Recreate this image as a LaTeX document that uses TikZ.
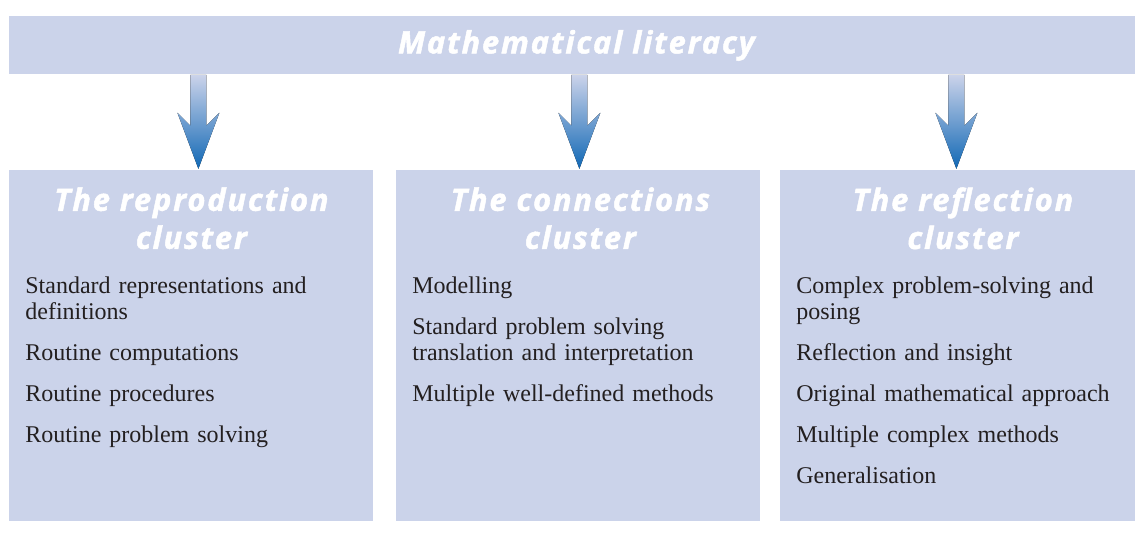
\documentclass[tikz,border=0pt]{standalone}
\usepackage{fontspec}
\setmainfont{Liberation Serif}
\newfontfamily\headfont[BoldItalicFeatures={FakeBold=1.6},LetterSpace=6]{Open Sans}
\usetikzlibrary{positioning,calc}
\definecolor{boxblue}{RGB}{203,211,234}
\definecolor{arrowtop}{RGB}{203,211,234}
\definecolor{arrowtip}{RGB}{17,104,181}
\definecolor{bodytext}{RGB}{35,31,32}

\tikzset{
 panel/.style={fill=boxblue,inner sep=0,anchor=north west},
 headtext/.style={text=white,align=center,inner sep=0,anchor=north,
  font=\headfont\bfseries\itshape\fontsize{15.4}{19}\selectfont},
 listtext/.style={text=bodytext,text width=172pt,align=left,inner sep=0,anchor=north west,
  font=\fontsize{12}{13}\selectfont\setlength{\parskip}{7.6pt}}
}
% arrow from the title bar down to a cluster, #2 = sideways shift
\newcommand{\clusterarrow}[2]{%
 \fill[top color=arrowtop,bottom color=arrowtip]
  ($(lit.south -| #1.north)+(#2,0)$) ++(-8,0) -- ++(0,51) -- ++(-13,-13)
  -- ++(21,56) -- ++(21,-56) -- ++(-13,13) -- ++(0,-51) -- cycle;}

\begin{document}
\begin{tikzpicture}[x=0.5pt,y=-0.5pt]
 \useasboundingbox (0,0) rectangle (1135,542);
 % title bar
 \node[panel,minimum width=563pt,minimum height=29pt] (lit) at (9,16) {};
 \node[headtext,anchor=center] (lit text) at ($(lit.center)+(4,0)$) {Mathematical literacy};
 % the three clusters
 \node[panel,minimum width=182pt,minimum height=175.5pt] (rep) at (9,170) {};
 \node[panel,minimum width=182pt,minimum height=175.5pt] (con) at (396,170) {};
 \node[panel,minimum width=177.5pt,minimum height=175.5pt] (ref) at (780,170) {};
 \clusterarrow{rep}{7}
 \clusterarrow{con}{1}
 \clusterarrow{ref}{-1.5}
 \node[headtext] (rep head) at ($(rep.north)+(0,17)$) {The reproduction\\cluster};
 \node[headtext] (con head) at ($(con.north)+(2,17)$) {The connections\\cluster};
 \node[headtext] (ref head) at ($(ref.north)+(5,17)$) {The reflection\\cluster};
 % competencies
 \node[listtext] (rep list) at ($(rep.north west)+(16,106)$) {Standard representations and\\definitions\par
  Routine computations\par Routine procedures\par Routine problem solving};
 \node[listtext] (con list) at ($(con.north west)+(16,106)$) {Modelling\par
  Standard problem solving\\translation and interpretation\par Multiple well-defined methods};
 \node[listtext] (ref list) at ($(ref.north west)+(16,106)$) {Complex problem-solving and\\posing\par
  Reflection and insight\par Original mathematical approach\par Multiple complex methods\par Generalisation};
\end{tikzpicture}
\end{document}
